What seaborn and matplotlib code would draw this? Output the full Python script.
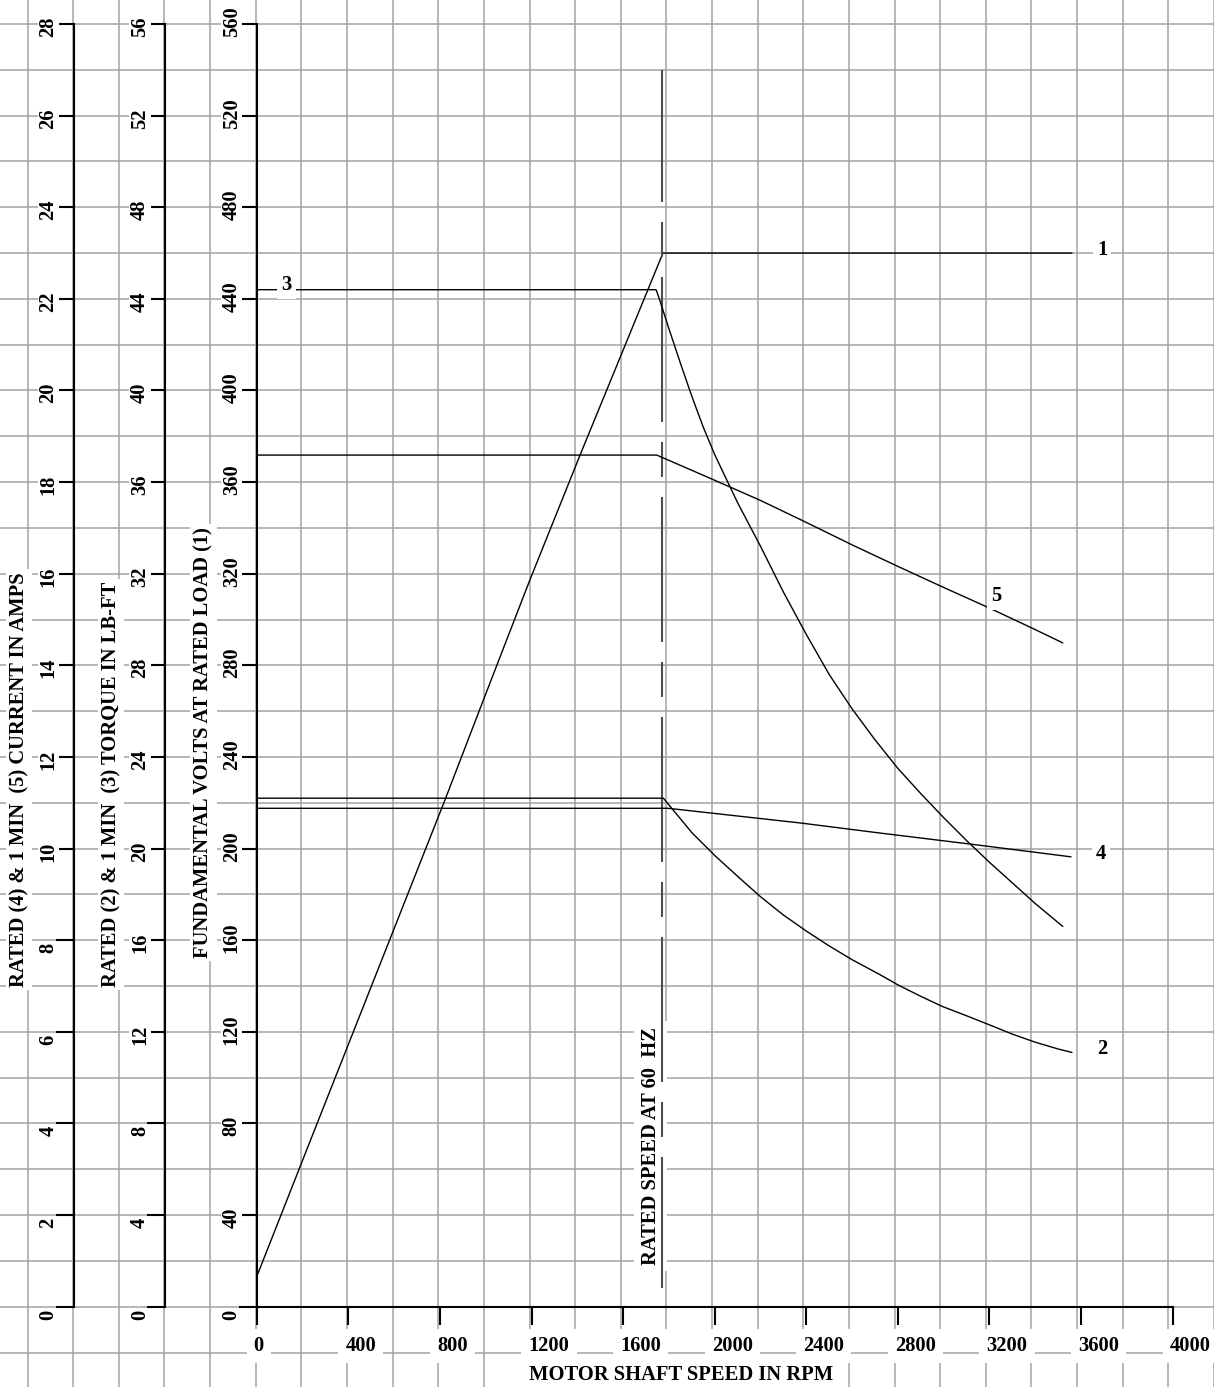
import numpy as np
import matplotlib
matplotlib.use("Agg")
import matplotlib.pyplot as plt
import seaborn as sns

# ---- values ----
rated_speed = 1770            # rpm, dashed "rated speed" line
rated_line_span = [540, 8]    # volts, top / bottom of that line

# (1) fundamental volts at rated load
volts_rpm = [0, 218, 822, 990, 1193, 1412, 1774, 3560]
volts_val = [13.1, 68.4, 221.2, 264.9, 317.3, 371.8, 460.0, 460.0]

# (2) rated torque, lb-ft
torque_rated_rpm = [0, 1776, 1900, 2000, 2110, 2200, 2300, 2400, 2500, 2600, 2721,
                    2800, 2900, 2996, 3100, 3201, 3300, 3399, 3500, 3560]
torque_rated_val = [22.2, 22.2, 20.7, 19.7, 18.7, 17.9, 17.1, 16.4, 15.75, 15.15, 14.5,
                    14.05, 13.55, 13.1, 12.7, 12.3, 11.9, 11.55, 11.25, 11.1]

# (3) 1 min torque, lb-ft
torque_1min_rpm = [0, 1744, 1760, 1800, 1850, 1900, 1950, 2000, 2100, 2200, 2300, 2400,
                   2500, 2600, 2700, 2800, 2900, 3000, 3100, 3200, 3300, 3400, 3520]
torque_1min_val = [44.4, 44.4, 43.95, 42.7, 41.2, 39.75, 38.4, 37.2, 35.1, 33.2, 31.2, 29.35,
                   27.6, 26.1, 24.75, 23.5, 22.4, 21.35, 20.35, 19.4, 18.5, 17.6, 16.6]

# (4) rated current, amps
current_rated_rpm = [0, 1796, 2373, 2721, 3114, 3556]
current_rated_val = [10.88, 10.88, 10.56, 10.34, 10.10, 9.82]

# (5) 1 min current, amps
current_1min_rpm = [0, 1747, 2000, 2200, 2400, 2600, 2800, 3000, 3200, 3400, 3520]
current_1min_val = [18.59, 18.59, 18.04, 17.6, 17.12, 16.63, 16.16, 15.7, 15.25, 14.78, 14.49]

rpm_ticks = list(range(0, 4001, 400))
volt_ticks = list(range(0, 561, 40))
torque_ticks = list(range(0, 57, 4))
amp_ticks = list(range(0, 29, 2))

sns.set_style("white")
plt.rcParams['font.family'] = ['Liberation Serif', 'DejaVu Serif']
plt.rcParams['font.weight'] = 'bold'
plt.rcParams['text.color'] = 'black'
plt.rcParams['axes.labelcolor'] = 'black'
plt.rcParams['lines.scale_dashes'] = False

FS = 14.8
W, H = 1214, 1387
x0_px, x1_px = 256.7, 1172.7   # rpm 0 .. 4000
y0_px, y1_px = 1306.7, 24.0    # volts 0 .. 560

fig = plt.figure(figsize=(W / 100, H / 100), dpi=100)
fig.patch.set_facecolor('white')

# graph paper covering the whole sheet
px_rpm = (x1_px - x0_px) / 4000
px_v = (y0_px - y1_px) / 560
bg = fig.add_axes([0, 0, 1, 1], zorder=0)
bg.set_xlim(-x0_px / px_rpm, (W - x0_px) / px_rpm)
bg.set_ylim(-(H - y0_px) / px_v, y0_px / px_v)
bg.set_xticks(np.arange(-1000, 4201, 200))
bg.set_yticks(np.arange(-20, 561, 20))
bg.grid(True, color='#a3a3a3', lw=1.1)
bg.tick_params(length=0, labelbottom=False, labelleft=False)
for s in bg.spines.values():
    s.set_visible(False)

ax = fig.add_axes([x0_px / W, 1 - y0_px / H, (x1_px - x0_px) / W, (y0_px - y1_px) / H], zorder=1)
ax.patch.set_visible(False)
ax_t = ax.twinx()
ax_a = ax.twinx()
ax_t.set_zorder(2)
ax_a.set_zorder(3)

ax.set_xlim(0, 4000)
ax.set_ylim(0, 560)
ax_t.set_ylim(0, 56)
ax_a.set_ylim(0, 28)

line_kw = dict(color='black', lw=1.0, estimator=None, sort=False)
sns.lineplot(x=volts_rpm, y=volts_val, ax=ax, **line_kw)
sns.lineplot(x=torque_rated_rpm, y=torque_rated_val, ax=ax_t, **line_kw)
sns.lineplot(x=torque_1min_rpm, y=torque_1min_val, ax=ax_t, **line_kw)
sns.lineplot(x=current_rated_rpm, y=current_rated_val, ax=ax_a, **line_kw)
sns.lineplot(x=current_1min_rpm, y=current_1min_val, ax=ax_a, **line_kw)

# rated speed centre line
ax.plot([rated_speed, rated_speed], rated_line_span, color='#4d4d4d', lw=1.5,
        linestyle=(9.4, (104.4, 14.4, 25.2, 14.4)), zorder=5)
ax.annotate("RATED SPEED AT 60  HZ", xy=(rated_speed, 0), xycoords='data',
            xytext=(-6.5, 42), textcoords='offset pixels', rotation=90, rotation_mode='anchor',
            ha='left', va='baseline', fontsize=FS, fontweight='bold', zorder=4,
            bbox=dict(boxstyle='square,pad=0.3', fc='white', ec='none'))

# spines and ticks
for a in (ax, ax_t, ax_a):
    for s in a.spines.values():
        s.set_visible(False)
    a.spines['left'].set_visible(True)
    a.spines['left'].set_color('black')
    a.spines['left'].set_linewidth(1.5)
ax.spines['bottom'].set_visible(True)
ax.spines['bottom'].set_color('black')
ax.spines['bottom'].set_linewidth(1.5)
ax_t.spines['left'].set_position(('axes', -0.1))
ax_a.spines['left'].set_position(('axes', -0.2))

ax.set_xticks(rpm_ticks)
ax.set_yticks(volt_ticks)
ax_t.set_yticks(torque_ticks)
ax_a.set_yticks(amp_ticks)
ax.tick_params(axis='both', direction='out', length=13, width=1.5, color='black',
               labelbottom=False, labelleft=False, bottom=True, left=True)
for a in (ax_t, ax_a):
    a.yaxis.set_ticks_position('left')
    a.yaxis.set_label_position('left')
    a.tick_params(axis='y', direction='out', length=13, width=1.5, color='black',
                  labelleft=False, labelright=False, left=True, right=False)

# tick labels
for r in rpm_ticks:
    ax.annotate(str(r), xy=(r, 0), xycoords=ax.get_xaxis_transform(),
                xytext=(-3, -44), textcoords='offset pixels', ha='left', va='baseline',
                fontsize=FS, fontweight='bold', annotation_clip=False,
                bbox=dict(boxstyle='square,pad=0.35', fc='white', ec='none'))

for a, ticks, pos in ((ax, volt_ticks, 0.0), (ax_t, torque_ticks, -0.1), (ax_a, amp_ticks, -0.2)):
    for v in ticks:
        a.annotate(str(v), xy=(pos, v), xycoords=a.get_yaxis_transform(),
                   xytext=(-20, -13), textcoords='offset pixels', rotation=90,
                   rotation_mode='anchor', ha='left', va='baseline',
                   fontsize=FS, fontweight='bold', annotation_clip=False,
                   bbox=dict(boxstyle='square,pad=0.03', fc='white', ec='none'))

# axis titles
title_box = dict(boxstyle='square,pad=0.15', fc='white', ec='none')
ax.set_xlabel("MOTOR SHAFT SPEED IN RPM", fontsize=FS, fontweight='bold', bbox=title_box)
ax.xaxis.set_label_coords(0.4632, -0.0458)
ax.set_ylabel("FUNDAMENTAL VOLTS AT RATED LOAD (1)", fontsize=FS, fontweight='bold', bbox=title_box)
ax.yaxis.set_label_coords(-0.0471, 0.4395)
ax_t.set_ylabel("RATED (2) & 1 MIN  (3) TORQUE IN LB-FT", fontsize=FS, fontweight='bold', bbox=title_box)
ax_t.yaxis.set_label_coords(-0.1479, 0.4071)
ax_a.set_ylabel("RATED (4) & 1 MIN  (5) CURRENT IN AMPS", fontsize=FS, fontweight='bold', bbox=title_box)
ax_a.yaxis.set_label_coords(-0.2483, 0.411)

# curve numbers
num_box = dict(boxstyle='square,pad=0.2', fc='white', ec='none')
curve_tags = [
    ("1", ax, volts_rpm, volts_val, -1, (30, -2)),
    ("2", ax_t, torque_rated_rpm, torque_rated_val, -1, (30, -2)),
    ("3", ax_t, torque_1min_rpm, torque_1min_val, 0, (30, 0)),
    ("4", ax_a, current_rated_rpm, current_rated_val, -1, (30, -2)),
    ("5", ax_a, current_1min_rpm, current_1min_val, 8, (7, 7)),
]
for tag, a, xs, ys, i, off in curve_tags:
    a.annotate(tag, xy=(xs[i], ys[i]), xytext=off, textcoords='offset pixels',
               ha='center', va='baseline', fontsize=FS, fontweight='bold',
               zorder=6, bbox=num_box)

fig.savefig("out.png", dpi=100, facecolor='white')
